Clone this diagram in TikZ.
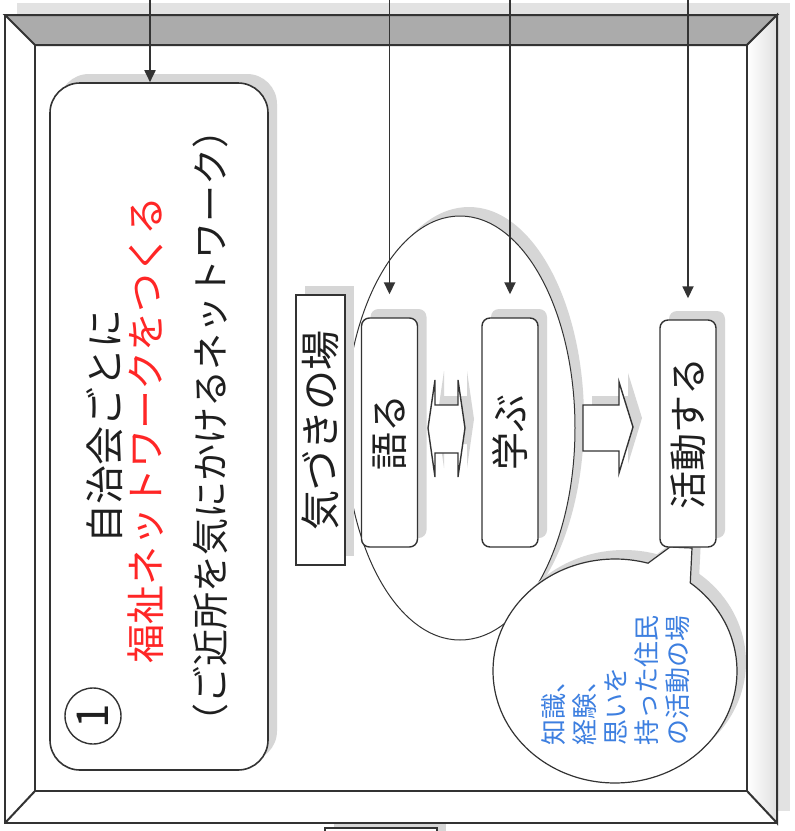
\documentclass[tikz,border=0pt]{standalone}
\usepackage{fontspec}
\setmainfont{Noto Sans CJK JP}
\usetikzlibrary{arrows.meta}
\usetikzlibrary{shapes.geometric, shadows}
\usepackage{xcolor}
\colorlet{myink}{black!88}
\colorlet{myline}{black!80}
\colorlet{myshade}{black!16}
\colorlet{myband}{black!33}
\definecolor{myred}{HTML}{FF2626}
\definecolor{myblue}{HTML}{3D7FE0}
\tikzset{
  >={Triangle[width=11pt,length=12pt]},
  shadowed/.style={drop shadow={shadow xshift=9pt,shadow yshift=9pt,fill=myshade,opacity=1}},
  frame/.style={line width=2pt,draw=myline,line join=miter},
  panel/.style={draw=myline,line width=1.6pt,fill=white,rounded corners=30pt,inner sep=0,shadowed},
  place/.style={draw=myline,line width=1.4pt,fill=white,inner sep=0,shadowed,
    minimum width=49pt,minimum height=270pt,font=\fontsize{40}{40}\selectfont,text=myink},
  stage/.style={draw=myline,line width=1.4pt,fill=white,rounded corners=8pt,inner sep=0,shadowed,
    minimum width=56pt,minimum height=229pt,font=\fontsize{38}{38}\selectfont,text=myink},
  field/.style={draw=myline,line width=1pt,fill=white,ellipse,inner sep=0,shadowed,
    minimum width=230pt,minimum height=424pt},
  bigarrow/.style={draw=myline,line width=1.4pt,fill=white,line join=miter,shadowed},
  bubble/.style={draw=myline,line width=1.2pt,fill=white,shadowed},
  connect/.style={->,line width=1.8pt,myline},
  note/.style={rotate=90,inner sep=0,text=myink,font=\fontsize{39}{40}\selectfont},
  numcircle/.style={circle,draw=myline,line width=1.4pt,minimum size=56pt,inner sep=0,
    rotate=90,text=myink,font=\fontsize{44}{44}\selectfont}
}

\begin{document}
\begin{tikzpicture}[x=1pt,y=-1pt]
  \useasboundingbox (0,0) rectangle (795,831);
  \clip (0,0) rectangle (795,831);

  % --- FRAME ---
  \fill[myshade!70] (17,3) rectangle (790,811);
  \node[place,minimum width=112pt,minimum height=40pt,line width=2.5pt] (next-box) at (381,848) {};
  \draw[frame,fill=white] (5,15) rectangle (777,823);
  \draw[frame,fill=myband] (5,15) -- (777,15) -- (747,45) -- (35,45) -- cycle;
  \shade[left color=white,right color=black!12] (747,45) -- (777,15) -- (777,823) -- (747,791) -- cycle;
  \draw[frame] (747,45) -- (777,15) -- (777,823) -- (747,791);
  \draw[frame] (5,823) -- (35,791);
  \draw[frame] (35,45) rectangle (747,791);

  % --- LEFT PANEL ---
  \node[panel,minimum width=218pt,minimum height=687pt] (net-box) at (159,426.5) {};
  \node[numcircle] (num-1) at (93,716) {1};
  \node[note] (line-1) at (105,426) {自治会ごとに};
  \node[note,text=myred] (line-2) at (146,430) {福祉ネットワークをつくる};
  \node[note,font=\fontsize{37}{38}\selectfont] (line-3) at (210,426) {（ご近所を気にかけるネットワーク）};

  % --- PLACE OF AWARENESS ---
  \node[field] (field) at (460,428) {};
  \node[place] (aware) at (320.5,430) {\rotatebox{90}{気づきの場}};
  \node[stage] (talk) at (389.5,432.5) {\rotatebox{90}{語る}};
  \node[stage] (learn) at (510,432.5) {\rotatebox{90}{学ぶ}};
  \draw[bigarrow] (435,380) -- (428,428) -- (435,477) -- (435,453) -- (458,453) -- (458,477)
    -- (465,428) -- (458,380) -- (458,405) -- (435,405) -- cycle;
  \draw[bigarrow] (583,405) -- (619,405) -- (619,382) -- (633,427) -- (619,473) -- (619,451)
    -- (583,451) -- cycle;

  % --- ACTIVITY + BUBBLE ---
  \coordinate (bub-c) at (615,671);
  \coordinate (tail-l) at (670,547);
  \coordinate (tail-r) at (692,548);
  \draw[bubble] (bub-c) ++(-51.9:122 and 112)
    arc[start angle=-51.9,end angle=285.7,x radius=122,y radius=112]
    -- (tail-l) -- (tail-r) -- cycle;
  \node[note,text=myblue,align=left,anchor=west,font=\fontsize{26}{31}\selectfont] (bub-text) at (616,746)
    {知識、\\経験、\\思いを\\持った住民\\の活動の場};
  \node[stage,minimum height=227pt] (act) at (688,433.5) {\rotatebox{90}{活動する}};

  % --- ARROWS FROM ABOVE ---
  \coordinate (top-1) at (150,0);
  \coordinate (top-2) at (389.5,0);
  \coordinate (top-3) at (510,0);
  \coordinate (top-4) at (688,0);
  \draw[connect] (top-1) -- (top-1 |- net-box.north);
  \draw[connect,shorten >=23pt] (top-2) -- (talk.north);
  \draw[connect,shorten >=23pt] (top-3) -- (learn.north);
  \draw[connect,shorten >=21pt] (top-4) -- (act.north);
\end{tikzpicture}
\end{document}
